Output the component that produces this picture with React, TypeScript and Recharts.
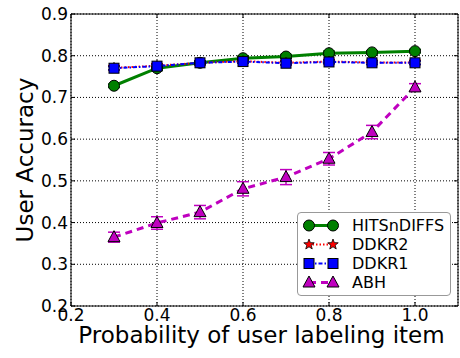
import { CartesianGrid, ErrorBar, Label, Line, LineChart, ReferenceArea, XAxis, YAxis } from "recharts";

const PROB = [0.3, 0.4, 0.5, 0.6, 0.7, 0.8, 0.9, 1.0];
const HITS = [0.728, 0.77, 0.783, 0.794, 0.798, 0.806, 0.808, 0.811];
const HITS_ERR = [0.004, 0.005, 0.004, 0.005, 0.005, 0.005, 0.004, 0.004];
const DDKR2 = [0.771, 0.776, 0.783, 0.787, 0.783, 0.786, 0.784, 0.784];
const DDKR2_ERR = [0.005, 0.005, 0.005, 0.005, 0.005, 0.005, 0.005, 0.005];
const DDKR1 = [0.77, 0.775, 0.783, 0.786, 0.782, 0.785, 0.783, 0.783];
const DDKR1_ERR = [0.004, 0.004, 0.004, 0.004, 0.004, 0.004, 0.004, 0.004];
const ABH = [0.365, 0.399, 0.425, 0.481, 0.509, 0.553, 0.617, 0.724];
const ABH_ERR = [0.012, 0.015, 0.016, 0.017, 0.018, 0.015, 0.016, 0.009];
const X_TICKS = [0.2, 0.4, 0.6, 0.8, 1.0];
const Y_TICKS = [0.2, 0.3, 0.4, 0.5, 0.6, 0.7, 0.8, 0.9];

const data = PROB.map((p, i) => ({
  p,
  hits: HITS[i],
  hitsErr: HITS_ERR[i],
  ddkr2: DDKR2[i],
  ddkr2Err: DDKR2_ERR[i],
  ddkr1: DDKR1[i],
  ddkr1Err: DDKR1_ERR[i],
  abh: ABH[i],
  abhErr: ABH_ERR[i],
}));

const FONT = "DejaVu Sans, Bitstream Vera Sans, sans-serif";

type Shape = "circle" | "star" | "square" | "triangle";

function Marker({ shape, cx, cy, color }: { shape: Shape; cx: number; cy: number; color: string }) {
  if (shape === "circle") return <circle cx={cx} cy={cy} r={5.5} fill={color} stroke="#000" strokeWidth={1} />;
  if (shape === "square") return <rect x={cx - 5} y={cy - 5} width={10} height={10} fill={color} stroke="#000" strokeWidth={1} />;
  if (shape === "triangle") {
    const pts = `${cx},${cy - 6.5} ${cx - 6},${cy + 4.5} ${cx + 6},${cy + 4.5}`;
    return <polygon points={pts} fill={color} stroke="#000" strokeWidth={1} />;
  }
  const pts: string[] = [];
  for (let k = 0; k < 10; k++) {
    const r = k % 2 === 0 ? 5.5 : 2.3;
    const a = -Math.PI / 2 + (k * Math.PI) / 5;
    pts.push(`${cx + r * Math.cos(a)},${cy + r * Math.sin(a)}`);
  }
  return <polygon points={pts.join(" ")} fill={color} stroke="#000" strokeWidth={0.8} />;
}

const SERIES = [
  { key: "hits", err: "hitsErr", name: "HITSnDIFFS", color: "#008000", dash: undefined, width: 3, shape: "circle" as Shape },
  { key: "ddkr2", err: "ddkr2Err", name: "DDKR2", color: "#ff0000", dash: "1.5 2", width: 2, shape: "star" as Shape },
  { key: "ddkr1", err: "ddkr1Err", name: "DDKR1", color: "#0000ff", dash: "4 2 1.5 2", width: 2, shape: "square" as Shape },
  { key: "abh", err: "abhErr", name: "ABH", color: "#bf00bf", dash: "7 5", width: 3, shape: "triangle" as Shape },
];

function XTick({ x, y, payload }: any) {
  return (
    <g>
      <line x1={x} x2={x} y1={y} y2={y - 4} stroke="#000" />
      <line x1={x} x2={x} y1={14} y2={18} stroke="#000" />
      <text x={x} y={y + 15} textAnchor="middle" fontSize={17} fontFamily={FONT} fill="#000">
        {Number(payload.value).toFixed(1)}
      </text>
    </g>
  );
}

function YTick({ x, y, payload }: any) {
  return (
    <g>
      <line x1={x} x2={x + 4} y1={y} y2={y} stroke="#000" />
      <line x1={454} x2={458} y1={y} y2={y} stroke="#000" />
      <text x={x - 3} y={y + 6} textAnchor="end" fontSize={17} fontFamily={FONT} fill="#000">
        {Number(payload.value).toFixed(1)}
      </text>
    </g>
  );
}

function LegendBox() {
  return (
    <div
      style={{
        position: "absolute",
        left: 297,
        top: 212,
        width: 154,
        border: "1px solid #999",
        borderRadius: 4,
        background: "#fff",
        padding: "3px 0",
        fontFamily: FONT,
        fontSize: 16,
        boxSizing: "border-box",
      }}
    >
      {SERIES.map((s) => (
        <div key={s.key} style={{ display: "flex", alignItems: "center", height: 19 }}>
          <svg width={54} height={19} style={{ display: "block" }}>
            <line x1={11} x2={35} y1={9.5} y2={9.5} stroke={s.color} strokeWidth={s.width} strokeDasharray={s.dash} />
            <Marker shape={s.shape} cx={11} cy={9.5} color={s.color} />
            <Marker shape={s.shape} cx={35} cy={9.5} color={s.color} />
          </svg>
          <span style={{ lineHeight: "19px" }}>{s.name}</span>
        </div>
      ))}
    </div>
  );
}

export default function App() {
  return (
    <div style={{ position: "absolute", left: 0, top: 0, width: 460, height: 358, background: "#fff" }}>
      <LineChart width={460} height={358} data={data} margin={{ top: 14, right: 2, left: 0, bottom: 0 }}>
        <CartesianGrid stroke="#000" strokeDasharray="1 2" strokeWidth={1} />
        <XAxis
          type="number"
          dataKey="p"
          domain={[0.2, 1.1]}
          ticks={X_TICKS}
          allowDataOverflow
          height={52}
          tickSize={0}
          tickMargin={0}
          axisLine={false}
          tick={<XTick />}
          interval={0}
        >
          <Label
            content={({ viewBox }: any) => (
              <text x={viewBox.x + viewBox.width / 2 - 3} y={343} textAnchor="middle" fontSize={23} fontFamily={FONT} fill="#000">
                Probability of user labeling item
              </text>
            )}
          />
        </XAxis>
        <YAxis
          type="number"
          domain={[0.2, 0.9]}
          ticks={Y_TICKS}
          allowDataOverflow
          width={71}
          tickSize={0}
          tickMargin={0}
          axisLine={false}
          tick={<YTick />}
          interval={0}
        >
          <Label
            content={({ viewBox }: any) => {
              const cy = viewBox.y + viewBox.height / 2;
              return (
                <text x={33} y={cy} transform={`rotate(-90 33 ${cy})`} textAnchor="middle" fontSize={23} fontFamily={FONT} fill="#000">
                  User Accuracy
                </text>
              );
            }}
          />
        </YAxis>
        {SERIES.map((s) => (
          <Line
            key={s.key}
            dataKey={s.key}
            name={s.name}
            stroke={s.color}
            strokeWidth={s.width}
            strokeDasharray={s.dash}
            isAnimationActive={false}
            activeDot={false}
            dot={(props: any) => <Marker key={`${s.key}-${props.index}`} shape={s.shape} cx={props.cx} cy={props.cy} color={s.color} />}
          >
            <ErrorBar dataKey={s.err} direction="y" width={6} stroke={s.color} strokeWidth={1.5} isAnimationActive={false} />
          </Line>
        ))}
        <ReferenceArea x1={0.2} x2={1.1} y1={0.2} y2={0.9} fill="none" stroke="#000" strokeWidth={1} ifOverflow="visible" />
      </LineChart>
      <LegendBox />
    </div>
  );
}
